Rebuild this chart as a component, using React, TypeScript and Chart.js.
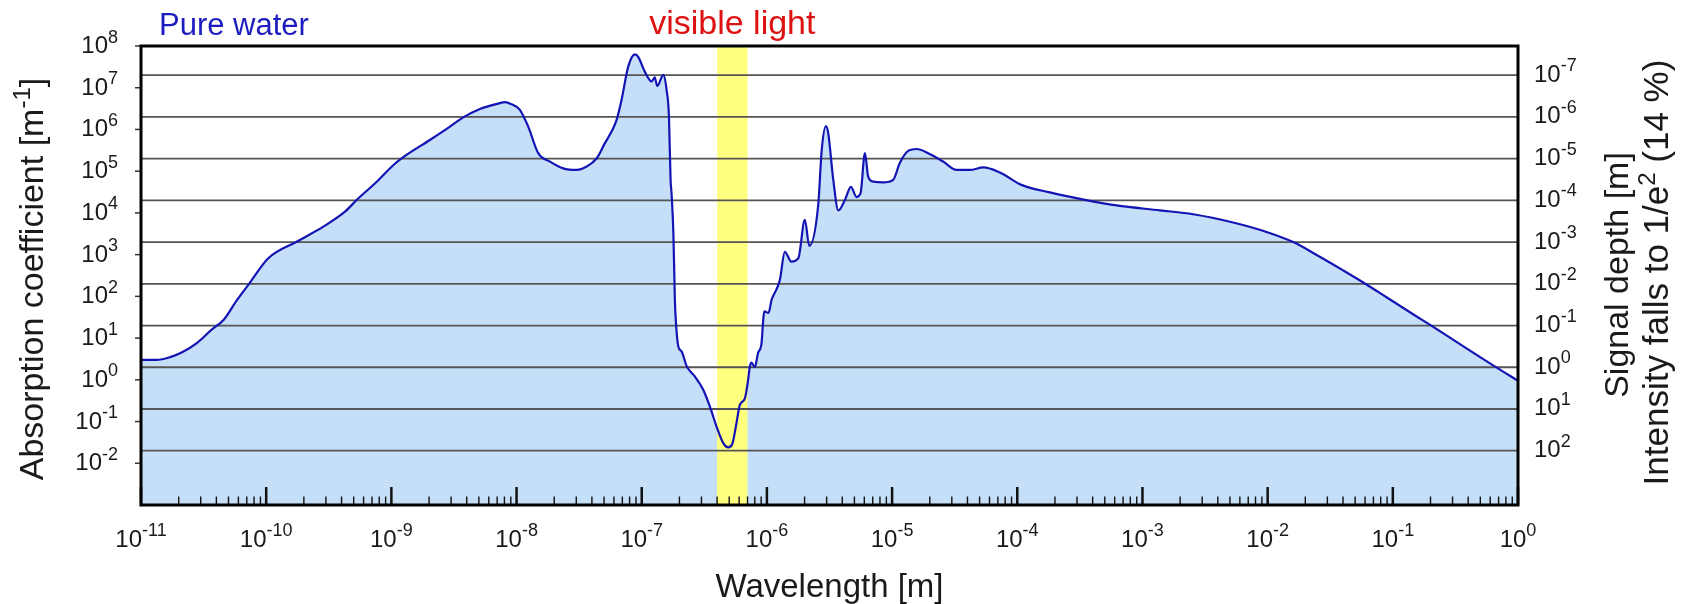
import React, { useEffect, useRef } from "react";
import { Chart, registerables } from "chart.js";

Chart.register(...registerables);

// Absorption spectrum of pure water: wavelength [m] and absorption coefficient [1/m]
const wavelengthM = [
  1.0e-11, 1.33e-11, 1.71e-11, 2.11e-11, 2.79e-11, 3.67e-11, 4.6e-11, 5.8e-11, 7.2e-11, 1.04e-10,
  1.75e-10, 2.86e-10, 4.26e-10, 5.28e-10, 7.64e-10, 1.04e-9, 1.32e-9, 2.03e-9, 2.94e-9, 3.75e-9,
  5.1e-9, 7.0e-9, 8.1e-9, 9.0e-9, 1.06e-8, 1.24e-8, 1.49e-8, 1.85e-8, 2.36e-8, 3.02e-8, 3.63e-8,
  4.37e-8, 5.08e-8, 5.74e-8, 6.3e-8, 6.9e-8, 7.8e-8, 8.83e-8, 9.37e-8, 1.06e-7, 1.2e-7,
  1.27e-7, 1.33e-7, 1.49e-7, 1.58e-7, 1.65e-7, 1.7e-7, 1.73e-7, 1.79e-7, 1.84e-7, 1.87e-7,
  1.96e-7, 2.08e-7, 2.29e-7, 2.66e-7, 3.1e-7, 3.5e-7, 3.96e-7, 4.49e-7, 4.92e-7, 5.31e-7,
  5.71e-7, 6.08e-7, 6.67e-7, 7.08e-7, 7.31e-7, 7.53e-7, 8.0e-7, 8.5e-7, 9.06e-7, 9.35e-7,
  9.53e-7, 1.03e-6, 1.09e-6, 1.19e-6, 1.27e-6, 1.39e-6, 1.57e-6, 1.78e-6, 2.01e-6, 2.18e-6,
  2.57e-6, 2.74e-6, 2.96e-6, 3.09e-6, 3.39e-6, 3.72e-6, 4.2e-6, 4.69e-6, 5.2e-6, 5.6e-6,
  6.07e-6, 6.44e-6, 7.08e-6, 8.49e-6, 1.02e-5, 1.15e-5, 1.35e-5, 1.57e-5, 1.94e-5, 2.56e-5,
  3.27e-5, 4.18e-5, 5.35e-5, 7.26e-5, 1.08e-4, 1.82e-4, 3.8e-4, 6.2e-4, 1.38e-3, 2.54e-3,
  5.3e-3, 9.8e-3, 1.6e-2, 2.61e-2, 4.0e-2, 6.2e-2, 8.9e-2, 0.155, 0.197, 0.652, 1.0,
];

const absorptionPerM = [
  3.0, 3.0, 3.5, 4.5, 7.6, 16, 28, 79, 188, 822,
  2040, 4680, 1.07e4, 2.04e4, 5.6e4, 1.41e5, 2.45e5, 5.6e5, 1.17e6, 1.95e6,
  3.1e6, 4.1e6, 4.5e6, 4.1e6, 3.0e6, 1.17e6, 2.7e5, 1.7e5, 1.17e5, 1.07e5, 1.29e5,
  2.04e5, 4.7e5, 8.9e5, 1.7e6, 5.1e6, 3.2e7, 6.3e7, 5.5e7, 2.4e7, 1.41e7,
  1.78e7, 1.1e7, 2.04e7, 8.9e6, 2.04e6, 6.2e4, 3.0e4, 3.2e3, 83, 28,
  6.3, 4.8, 2.1, 1.2, 0.58, 0.23, 0.076, 0.03, 0.024, 0.03,
  0.091, 0.25, 0.36, 1.0, 2.1, 2.6, 2.0, 4.4, 7.6, 28,
  44, 40, 83, 145, 250, 1170, 680, 810, 6800, 1620,
  1.55e4, 3.2e5, 1.2e6, 8.1e5, 6.2e4, 1.15e4, 2.04e4, 4.2e4, 2.4e4, 3.0e4,
  2.7e5, 7.4e4, 5.6e4, 5.4e4, 6.2e4, 1.55e5, 3.1e5, 3.4e5, 2.7e5, 1.7e5,
  1.07e5, 1.07e5, 1.23e5, 9.3e4, 4.7e4, 3.1e4, 1.95e4, 1.51e4, 1.15e4, 9.3e3,
  5.9e3, 3.5e3, 2.0e3, 890, 420, 190, 95, 33, 21, 2.1, 0.95,
];

// Tick exponents (powers of ten)
const wavelengthExponents = [-11, -10, -9, -8, -7, -6, -5, -4, -3, -2, -1, 0];
const absorptionExponents = [8, 7, 6, 5, 4, 3, 2, 1, 0, -1, -2];
const depthExponents = [-7, -6, -5, -4, -3, -2, -1, 0, 1, 2];

// Visible range of the spectrum [m]
const visibleRange = [4.0e-7, 7.0e-7];

const FONT = '"Liberation Sans", Arial, Helvetica, sans-serif';
const TEXT = "#1a1a1a";

function drawPower(
  ctx: CanvasRenderingContext2D,
  exp: number,
  x: number,
  baseline: number,
  align: "left" | "right" | "center"
) {
  const base = "10";
  const sup = String(exp);
  ctx.font = `24px ${FONT}`;
  const wb = ctx.measureText(base).width;
  ctx.font = `18px ${FONT}`;
  const ws = ctx.measureText(sup).width;
  const total = wb + ws;
  const left = align === "left" ? x : align === "right" ? x - total : x - total / 2;
  ctx.textAlign = "left";
  ctx.textBaseline = "alphabetic";
  ctx.font = `24px ${FONT}`;
  ctx.fillText(base, left, baseline);
  ctx.font = `18px ${FONT}`;
  ctx.fillText(sup, left + wb, baseline - 10.5);
}

// Draws a run of text segments (plain / superscript) centred on 0 in the current frame
function drawRich(
  ctx: CanvasRenderingContext2D,
  parts: { t: string; sup?: boolean }[],
  size: number,
  supSize: number,
  rise: number
) {
  const widths = parts.map((p) => {
    ctx.font = `${p.sup ? supSize : size}px ${FONT}`;
    return ctx.measureText(p.t).width;
  });
  const total = widths.reduce((a, b) => a + b, 0);
  let cx = -total / 2;
  ctx.textAlign = "left";
  ctx.textBaseline = "alphabetic";
  parts.forEach((p, i) => {
    ctx.font = `${p.sup ? supSize : size}px ${FONT}`;
    ctx.fillText(p.t, cx, p.sup ? -rise : 0);
    cx += widths[i];
  });
}

const decorPlugin = {
  id: "waterDecor",
  beforeDatasetDraw(chart: any, args: any) {
    if (args.index !== 0) return;
    const { ctx, chartArea: ca, scales } = chart;
    ctx.save();
    // visible light band
    const xl = scales.x.getPixelForValue(visibleRange[0]);
    const xr = scales.x.getPixelForValue(visibleRange[1]);
    ctx.fillStyle = "#ffff80";
    ctx.fillRect(xl, ca.top, xr - xl, ca.bottom - ca.top);
    // horizontal grid at signal-depth decades
    ctx.strokeStyle = "#555555";
    ctx.lineWidth = 1.8;
    depthExponents.forEach((e) => {
      const py = scales.depth.getPixelForValue(Math.pow(10, e));
      ctx.beginPath();
      ctx.moveTo(ca.left, py);
      ctx.lineTo(ca.right, py);
      ctx.stroke();
    });
    ctx.restore();
  },
  afterDraw(chart: any) {
    const { ctx, chartArea: ca, scales } = chart;
    const x = scales.x;
    const y = scales.y;
    const depth = scales.depth;
    ctx.save();

    // x-axis ticks (inward), major and minor
    ctx.strokeStyle = "#111";
    wavelengthExponents.forEach((e, i) => {
      const px = x.getPixelForValue(Math.pow(10, e));
      ctx.lineWidth = 2.5;
      ctx.beginPath();
      ctx.moveTo(px, ca.bottom);
      ctx.lineTo(px, ca.bottom - 18);
      ctx.stroke();
      if (i < wavelengthExponents.length - 1) {
        ctx.lineWidth = 1.4;
        for (let m = 2; m <= 9; m++) {
          const mx = x.getPixelForValue(m * Math.pow(10, e));
          ctx.beginPath();
          ctx.moveTo(mx, ca.bottom);
          ctx.lineTo(mx, ca.bottom - 8.5);
          ctx.stroke();
        }
      }
    });

    // left y-axis ticks (outward)
    ctx.strokeStyle = "#333";
    ctx.lineWidth = 1.5;
    absorptionExponents.forEach((e) => {
      const py = y.getPixelForValue(Math.pow(10, e));
      ctx.beginPath();
      ctx.moveTo(ca.left - 6, py);
      ctx.lineTo(ca.left, py);
      ctx.stroke();
    });

    // frame
    ctx.strokeStyle = "#000";
    ctx.lineWidth = 3;
    ctx.strokeRect(ca.left, ca.top, ca.right - ca.left, ca.bottom - ca.top);

    // tick labels
    ctx.fillStyle = TEXT;
    wavelengthExponents.forEach((e) => {
      drawPower(ctx, e, x.getPixelForValue(Math.pow(10, e)), 546.5, "center");
    });
    absorptionExponents.forEach((e) => {
      drawPower(ctx, e, 118, y.getPixelForValue(Math.pow(10, e)) + 7, "right");
    });
    depthExponents.forEach((e) => {
      drawPower(ctx, e, 1534, depth.getPixelForValue(Math.pow(10, e)) + 6.5, "left");
    });

    // axis titles
    ctx.font = `33px ${FONT}`;
    ctx.textAlign = "center";
    ctx.textBaseline = "alphabetic";
    ctx.fillText("Wavelength [m]", (ca.left + ca.right) / 2, 596.5);

    ctx.save();
    ctx.translate(43, 279);
    ctx.rotate(-Math.PI / 2);
    drawRich(ctx, [{ t: "Absorption coefficient [m" }, { t: "-1", sup: true }, { t: "]" }], 34, 24, 13);
    ctx.restore();

    ctx.save();
    ctx.translate(1628, 275);
    ctx.rotate(-Math.PI / 2);
    drawRich(ctx, [{ t: "Signal depth [m]" }], 34, 24, 13);
    ctx.restore();

    ctx.save();
    ctx.translate(1668, 272.5);
    ctx.rotate(-Math.PI / 2);
    drawRich(ctx, [{ t: "Intensity falls to 1/e" }, { t: "2", sup: true }, { t: " (14 %)" }], 35, 24, 13);
    ctx.restore();

    // headings
    ctx.textAlign = "left";
    ctx.font = `31px ${FONT}`;
    ctx.fillStyle = "#1c1cc0";
    ctx.fillText("Pure water", 159, 35);

    ctx.textAlign = "center";
    ctx.font = `34px ${FONT}`;
    ctx.fillStyle = "#dd1111";
    const bandMid = (x.getPixelForValue(visibleRange[0]) + x.getPixelForValue(visibleRange[1])) / 2;
    ctx.fillText("visible light", bandMid, 33.5);

    ctx.restore();
  },
};

export default function App() {
  const canvasRef = useRef<HTMLCanvasElement | null>(null);

  useEffect(() => {
    const canvas = canvasRef.current;
    if (!canvas) return;
    const points = wavelengthM.map((w, i) => ({ x: w, y: absorptionPerM[i] }));
    const chart = new Chart(canvas, {
      type: "line",
      data: {
        datasets: [
          {
            label: "Pure water",
            data: points,
            borderColor: "#1414b4",
            borderWidth: 2.2,
            backgroundColor: "#c5dff8",
            fill: "start",
            pointRadius: 0,
            cubicInterpolationMode: "monotone",
          },
        ],
      },
      options: {
        responsive: false,
        animation: false,
        devicePixelRatio: 1,
        events: [],
        layout: { padding: { left: 141, right: 167, top: 46, bottom: 99 } },
        plugins: {
          legend: { display: false },
          tooltip: { enabled: false },
          filler: { drawTime: "beforeDatasetsDraw" },
        },
        scales: {
          x: { type: "logarithmic", min: 1e-11, max: 1, display: false },
          y: { type: "logarithmic", min: 1e-3, max: 1e8, display: false },
          depth: {
            type: "logarithmic",
            axis: "y",
            position: "right",
            reverse: true,
            min: 2 / 1e8,
            max: 2 / 1e-3,
            display: false,
          },
        },
      } as any,
      plugins: [decorPlugin],
    });
    return () => chart.destroy();
  }, []);

  return (
    <div style={{ position: "fixed", left: 0, top: 0, width: 1685, height: 604, background: "#fff" }}>
      <canvas ref={canvasRef} width={1685} height={604} style={{ display: "block" }} />
    </div>
  );
}
